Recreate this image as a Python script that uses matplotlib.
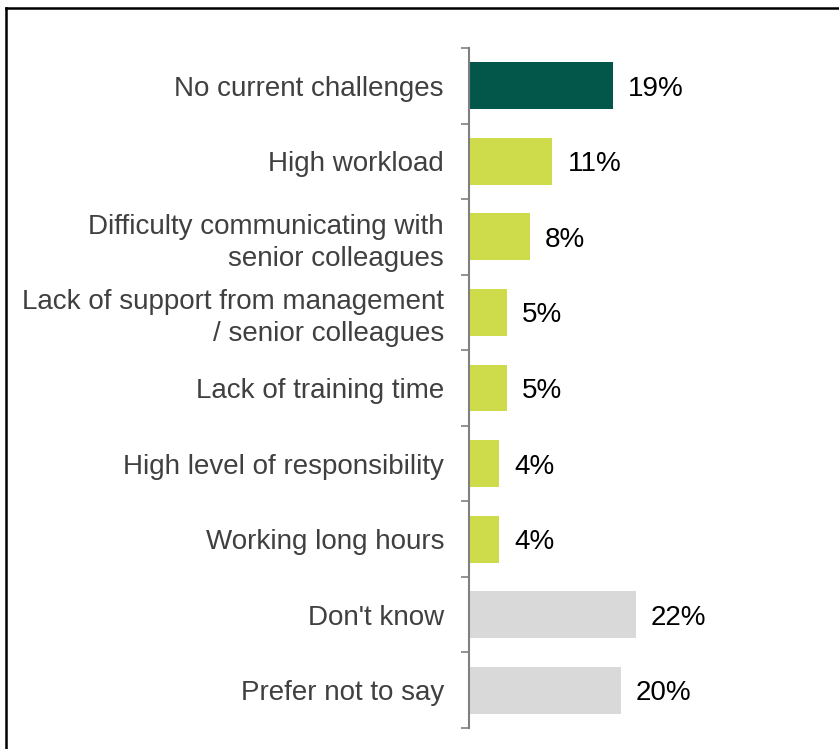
import matplotlib
matplotlib.use("Agg")
import matplotlib.pyplot as plt
from matplotlib.lines import Line2D
import numpy as np

categories = ["No current challenges", "High workload",
              "Difficulty communicating with\nsenior colleagues",
              "Lack of support from management\n/ senior colleagues",
              "Lack of training time", "High level of responsibility",
              "Working long hours", "Don't know", "Prefer not to say"]
values = [19, 11, 8, 5, 5, 4, 4, 22, 20]
colors = ["#03574A"] + ["#CEDC4C"] * 6 + ["#D9D9D9"] * 2

plt.rcParams['font.family'] = ['Liberation Sans', 'DejaVu Sans']

fig = plt.figure(figsize=(8.39, 7.49), dpi=100)
ax = fig.add_axes([469/839, 1 - 728/749, 1 - 469/839, (728 - 48)/749])

n = len(categories)
y = np.arange(n)
ax.barh(y, values, height=0.62, color=colors)
ax.set_ylim(n - 0.5, -0.5)
ax.set_xlim(0, 48.8)

for yi, v in zip(y, values):
    ax.text(v + 2.0, yi, f"{v}%", va="center_baseline", ha="left", fontsize=20, color="black")

ax.set_yticks(y)
ax.set_yticklabels(categories, fontsize=20, color="#404040", ha="right", linespacing=1.3)
ax.tick_params(axis="y", which="major", length=0, pad=18)
ax.set_yticks(np.arange(-0.5, n, 1.0), minor=True)
ax.tick_params(axis="y", which="minor", length=6, width=1.2, color="#808080")
ax.set_xticks([])
for s in ["top", "right", "bottom"]:
    ax.spines[s].set_visible(False)
ax.spines["left"].set_color("#808080")
ax.spines["left"].set_linewidth(1.5)

# outer border
fig.add_artist(Line2D([5.5/839, 5.5/839], [0, 1 - 7.5/749], color="black", lw=1.8, transform=fig.transFigure))
fig.add_artist(Line2D([5.5/839, 1], [1 - 7.5/749, 1 - 7.5/749], color="black", lw=1.8, transform=fig.transFigure))

fig.savefig("out.png", dpi=100)
